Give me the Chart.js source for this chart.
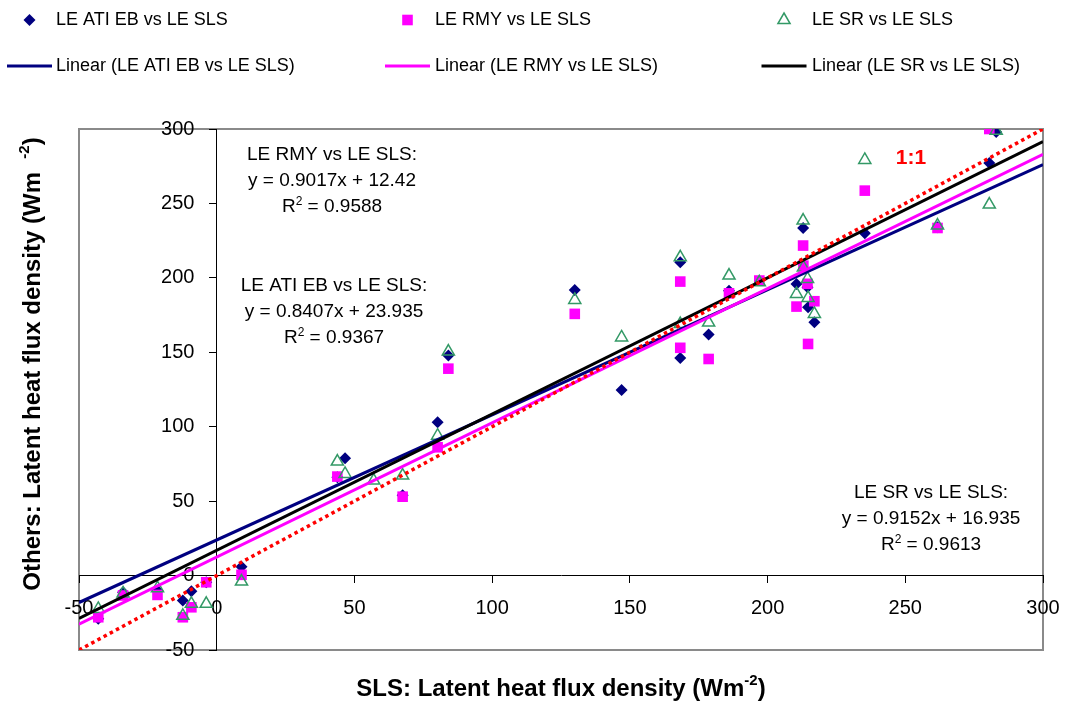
<!DOCTYPE html>
<html>
<head>
<meta charset="utf-8">
<script src="https://cdn.jsdelivr.net/npm/chart.js@4.4.1/dist/chart.umd.min.js"></script>
<style>
html,body{margin:0;padding:0;background:#fff;}
#wrap{width:1069px;height:705px;position:relative;}
</style>
</head>
<body>
<div id="wrap"><canvas id="c"></canvas></div>
<script>
// ---------------- data ----------------
const slsX = [-43, -34, -21.5, -12.3, -9.2, -3.8, 9, 43.8, 46.6, 57, 67.5, 80.2, 84.1, 130, 147, 168.3, 168.3, 178.6, 186, 197, 210.5, 212.9, 213, 214.5, 214.7, 217, 235.3, 261.7, 280.5, 283];
const atiY = [-29, -11.2, -10, -16.8, -10.5, -4.5, 6, 66, 78.8, null, 54, 103, 147.8, 191.9, 124.7, 210.5, 146.2, 161.9, 191.4, null, 195.9, 233.5, null, 193.7, 180.2, 170.2, 230, 234, 277.2, 298];
const rmyY = [-28, -13.4, -13, -28, -21.3, -4.5, 0.5, 66.5, null, null, 53, 86.2, 139, 175.8, null, 197.5, 153, 145.5, 189.6, 198.2, 180.7, 221.7, 208.2, 196, 155.6, 184.3, 258.6, 233.5, 300, null];
const srY  = [-22.4, -12, -8.5, -27, -19, -19, -4, 76.6, 68.3, 63.8, 67.2, 94, 150.5, 185.2, 160, 213.8, 169, 170, 201.5, 197, 189.2, 238.5, 207, 199.3, 186.5, 175.8, 279.2, 235.1, 249.2, 298.9];

// trend line end points (x = -50 and x = 300, from the printed equations)
const trendX = [-50, 300];
const atiTrendY = [-18.1, 276.1];
const rmyTrendY = [-32.7, 282.9];
const srTrendY  = [-28.8, 291.5];
const oneToOneY = [-50, 300];

const seriesLabels = ['LE ATI EB vs LE SLS', 'LE RMY vs LE SLS', 'LE SR vs LE SLS'];
const trendLabels = ['Linear (LE ATI EB vs LE SLS)', 'Linear (LE RMY vs LE SLS)', 'Linear (LE SR vs LE SLS)'];

const axisMin = -50, axisMax = 300, axisStep = 50;

const eqTitles = ['LE RMY vs LE SLS:', 'LE ATI EB vs LE SLS:', 'LE SR vs LE SLS:'];
const eqLines  = ['y = 0.9017x + 12.42', 'y = 0.8407x + 23.935', 'y = 0.9152x + 16.935'];
const r2Values = ['0.9588', '0.9367', '0.9613'];
const oneToOneText = '1:1';
const xTitle = ['SLS: Latent heat flux density (Wm', '-2', ')'];
const yTitle = ['Others: Latent heat flux density (Wm  ', '-2', ')'];

// ---------------- helpers ----------------
const FAM = '"Liberation Sans", Arial, sans-serif';
Chart.defaults.font.family = FAM;
Chart.defaults.color = '#000';

const pts = ys => slsX.map((x, i) => ({x: x, y: ys[i]}));
const line = ys => trendX.map((x, i) => ({x: x, y: ys[i]}));

function fontStr(s) { return (s.bold ? 'bold ' : '') + s.size + 'px ' + FAM; }
function drawRich(ctx, segs, cx, cy) {
  let w = 0;
  segs.forEach(s => { ctx.font = fontStr(s); s.w = ctx.measureText(s.t).width; w += s.w; });
  let x = cx - w / 2;
  ctx.textAlign = 'left';
  ctx.textBaseline = 'middle';
  segs.forEach(s => { ctx.font = fontStr(s); ctx.fillText(s.t, x, cy + (s.dy || 0)); x += s.w; });
}

// ---------------- plugins ----------------
const framePlugin = {
  id: 'frame',
  beforeDraw(chart) {
    const {ctx, chartArea: a} = chart;
    ctx.save();
    ctx.fillStyle = '#fff';
    ctx.fillRect(0, 0, chart.width, chart.height);
    ctx.strokeStyle = '#8a8a8a';
    ctx.lineWidth = 2;
    ctx.strokeRect(a.left, a.top, a.right - a.left, a.bottom - a.top);
    ctx.restore();
  }
};

const legendCols = [29.5, 407.5, 784];
const legendTextX = [56, 435, 812];
const legendRows = [20, 66];

const legendPlugin = {
  id: 'gridLegend',
  afterDraw(chart) {
    const ctx = chart.ctx;
    const ds = chart.data.datasets;
    ctx.save();
    ctx.font = '18px ' + FAM;
    ctx.textAlign = 'left';
    ctx.textBaseline = 'middle';
    for (let i = 0; i < 3; i++) {
      const d = ds[i];
      ctx.fillStyle = d.backgroundColor;
      ctx.strokeStyle = d.borderColor;
      ctx.lineWidth = d.borderWidth;
      Chart.helpers.drawPoint(ctx, {pointStyle: d.pointStyle, radius: d.pointRadius, rotation: 0, borderWidth: d.borderWidth}, legendCols[i], legendRows[0]);
      ctx.fillStyle = '#000';
      ctx.fillText(d.label, legendTextX[i], legendRows[0]);
      const t = ds[3 + i];
      ctx.strokeStyle = t.borderColor;
      ctx.lineWidth = 3;
      ctx.beginPath();
      ctx.moveTo(legendCols[i] - 22.5, legendRows[1]);
      ctx.lineTo(legendCols[i] + 22.5, legendRows[1]);
      ctx.stroke();
      ctx.fillText(t.label, legendTextX[i], legendRows[1]);
    }
    ctx.restore();
  }
};

const eqPos = [[332, 155], [334, 286], [931, 493]];
const textPlugin = {
  id: 'texts',
  afterDraw(chart) {
    const ctx = chart.ctx;
    ctx.save();
    ctx.fillStyle = '#000';
    for (let i = 0; i < 3; i++) {
      const [cx, cy] = eqPos[i];
      drawRich(ctx, [{t: eqTitles[i], size: 19}], cx, cy);
      drawRich(ctx, [{t: eqLines[i], size: 19}], cx, cy + 26);
      drawRich(ctx, [{t: 'R', size: 19}, {t: '2', size: 12, dy: -5}, {t: ' = ' + r2Values[i], size: 19}], cx, cy + 52);
    }
    ctx.fillStyle = '#FF0000';
    drawRich(ctx, [{t: oneToOneText, size: 21, bold: true}], 911, 158);
    ctx.fillStyle = '#000';
    drawRich(ctx, [{t: xTitle[0], size: 24, bold: true}, {t: xTitle[1], size: 15, bold: true, dy: -8}, {t: xTitle[2], size: 24, bold: true}], 561, 689);
    ctx.translate(33, 364);
    ctx.rotate(-Math.PI / 2);
    drawRich(ctx, [{t: yTitle[0], size: 24, bold: true}, {t: yTitle[1], size: 15, bold: true, dy: -8}, {t: yTitle[2], size: 24, bold: true}], 0, 0);
    ctx.restore();
  }
};

// ---------------- chart ----------------
new Chart(document.getElementById('c'), {
  type: 'scatter',
  data: {
    datasets: [
      {label: seriesLabels[0], data: pts(atiY), pointStyle: 'rectRot', pointRadius: 6, backgroundColor: '#000080', borderColor: '#000080', borderWidth: 0, order: 6},
      {label: seriesLabels[1], data: pts(rmyY), pointStyle: 'rect', pointRadius: 7.5, backgroundColor: '#FF00FF', borderColor: '#FF00FF', borderWidth: 0, order: 5},
      {label: seriesLabels[2], data: pts(srY), pointStyle: 'triangle', pointRadius: 7, backgroundColor: 'rgba(0,0,0,0)', borderColor: '#339966', borderWidth: 1.5, order: 4},
      {label: trendLabels[0], data: line(atiTrendY), showLine: true, borderColor: '#000080', backgroundColor: '#000080', borderWidth: 3, pointRadius: 0, order: 3},
      {label: trendLabels[1], data: line(rmyTrendY), showLine: true, borderColor: '#FF00FF', backgroundColor: '#FF00FF', borderWidth: 3, pointRadius: 0, order: 2},
      {label: trendLabels[2], data: line(srTrendY), showLine: true, borderColor: '#000000', backgroundColor: '#000000', borderWidth: 3, pointRadius: 0, order: 1},
      {label: '1:1', data: line(oneToOneY), showLine: true, borderColor: '#FF0000', backgroundColor: '#FF0000', borderWidth: 3.5, borderDash: [3.5, 3.5], pointRadius: 0, order: 0}
    ]
  },
  options: {
    responsive: true,
    maintainAspectRatio: false,
    animation: false,
    events: [],
    layout: {padding: {left: 79, right: 26, top: 129, bottom: 55}},
    plugins: {legend: {display: false}, tooltip: {enabled: false}},
    scales: {
      x: {
        type: 'linear', min: axisMin, max: axisMax, position: {y: 0},
        ticks: {stepSize: axisStep, font: {size: 20, family: FAM, lineHeight: 2.2}, color: '#000', padding: 4, maxRotation: 0, autoSkip: false},
        grid: {drawOnChartArea: false, drawTicks: true, tickLength: 7, color: '#000', lineWidth: 1},
        border: {color: '#000', width: 1}
      },
      y: {
        type: 'linear', min: axisMin, max: axisMax, position: {x: 0},
        ticks: {stepSize: axisStep, font: {size: 20, family: FAM}, color: '#000', autoSkip: false, callback: v => v + '    '},
        grid: {drawOnChartArea: false, drawTicks: true, tickLength: 7, color: '#000', lineWidth: 1},
        border: {color: '#000', width: 1}
      }
    }
  },
  plugins: [framePlugin, legendPlugin, textPlugin]
});
</script>
</body>
</html>
